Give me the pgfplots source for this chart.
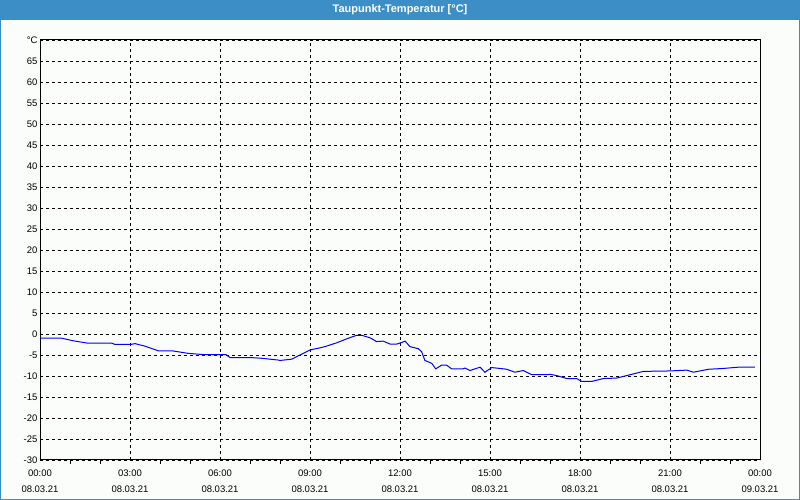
\documentclass[border=0pt]{standalone}
\usepackage{pgfplots}
\pgfplotsset{compat=1.18}
\usetikzlibrary{calc}
\usepackage{fontspec}
\setmainfont{Liberation Sans}
\definecolor{titleblue}{RGB}{59,143,198}
\definecolor{bgc}{RGB}{251,253,251}
\pgfdeclarelayer{bg}
\pgfsetlayers{bg,main}
\begin{document}
\begin{tikzpicture}
\begin{axis}[
  scale only axis, width=720pt, height=420pt,
  xmin=0, xmax=24, ymin=-30, ymax=70,
  axis line style={black, line width=1pt},
  tick pos=left,
  xtick={0,3,...,24},
  minor xtick={1,2,4,5,7,8,10,11,13,14,16,17,19,20,22,23},
  xticklabels={{00:00\\08.03.21},{03:00\\08.03.21},{06:00\\08.03.21},{09:00\\08.03.21},{12:00\\08.03.21},{15:00\\08.03.21},{18:00\\08.03.21},{21:00\\08.03.21},{00:00\\09.03.21}},
  xticklabel style={align=center, font=\fontsize{9.5}{16}\selectfont, yshift=-6pt},
  ytick={-30,-25,...,70},
  yticklabels={-30,-25,-20,-15,-10,-5,0,5,10,15,20,25,30,35,40,45,50,55,60,65,°C},
  yticklabel style={font=\fontsize{9.5}{11}\selectfont, xshift=1pt},
  /pgf/number format/assume math mode=true,
  tick align=outside,
  major tick length=0pt,
  minor tick length=4pt,
  ytick style={draw=none},
  minor tick style={black, line width=1pt},
  xmajorgrids, ymajorgrids,
  major grid style={black, line width=0.8pt, dash pattern=on 3pt off 3pt},
]
\coordinate (A) at (rel axis cs:0,0);
\addplot[blue, line width=1pt] coordinates {
(0,-1.0) (0.72,-1.0) (1.1,-1.6) (1.6,-2.2) (2.4,-2.2) (2.5,-2.5) (3.0,-2.5)
(3.17,-2.3) (3.5,-2.9) (3.94,-4.0) (4.4,-4.0) (4.93,-4.6) (5.44,-4.9) (6.2,-4.9)
(6.33,-5.6) (7.0,-5.6) (7.44,-5.8) (7.67,-6.0) (7.94,-6.2) (8.0,-6.3) (8.39,-6.0)
(8.67,-5.0) (9.0,-3.8) (9.33,-3.3) (9.5,-3.0) (9.89,-2.1) (10.28,-1.0) (10.56,-0.3)
(10.72,-0.3) (11.0,-0.9) (11.22,-1.8) (11.44,-1.7) (11.67,-2.4) (11.89,-2.4)
(12.06,-2.0) (12.17,-1.7) (12.33,-3.0) (12.61,-3.5) (12.72,-4.2) (12.83,-6.3)
(13.06,-7.0) (13.19,-8.3) (13.39,-7.4) (13.55,-7.4) (13.72,-8.3) (14.1,-8.3)
(14.17,-8.1) (14.33,-8.7) (14.67,-7.9) (14.83,-9.1) (15.06,-8.0) (15.33,-8.2)
(15.56,-8.4) (15.83,-9.1) (16.11,-8.7) (16.39,-9.7) (16.89,-9.7) (17.0,-9.6)
(17.22,-9.9) (17.56,-10.6) (17.89,-10.6) (18.06,-11.3) (18.39,-11.3) (18.78,-10.6)
(19.22,-10.5) (19.78,-9.5) (20.11,-8.9) (21.0,-8.8) (21.56,-8.6) (21.78,-9.1)
(22.28,-8.4) (22.78,-8.2) (23.28,-7.9) (23.83,-7.9)
};
\end{axis}
\begin{pgfonlayer}{bg}
\fill[bgc] ($(A)+(-40pt,-40pt)$) rectangle ($(A)+(760pt,460pt)$);
\fill[titleblue] ($(A)+(-40pt,440pt)$) rectangle ($(A)+(760pt,460pt)$);
\draw[titleblue,line width=1pt] ($(A)+(-39.5pt,-39.5pt)$) rectangle ($(A)+(759.5pt,459.5pt)$);
\end{pgfonlayer}
\node[white,font=\fontsize{11}{12}\selectfont\bfseries] at ($(A)+(360pt,450pt)$) {Taupunkt-Temperatur [°C]};
\useasboundingbox ($(A)+(-40pt,-40pt)$) rectangle ($(A)+(760pt,460pt)$);
\end{tikzpicture}
\end{document}
